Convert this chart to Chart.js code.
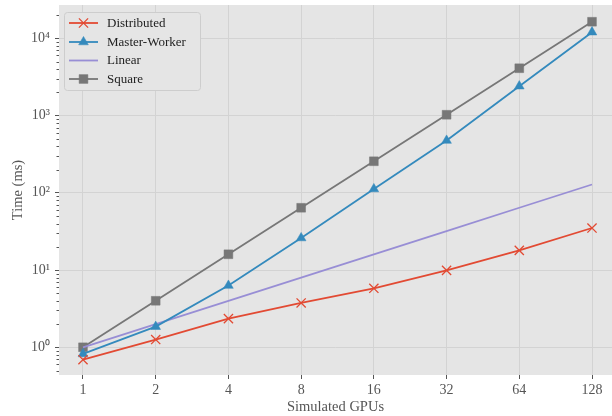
<!DOCTYPE html>
<html>
<head>
<meta charset="utf-8">
<script src="https://cdn.jsdelivr.net/npm/chart.js@4.4.1/dist/chart.umd.min.js"></script>
<style>
  html, body { margin: 0; padding: 0; background: #ffffff; }
  #wrap { width: 612px; height: 416px; }
</style>
</head>
<body>
<div id="wrap"><canvas id="c" width="612" height="416"></canvas></div>
<script>
// ---- data ----
const categories   = ['1', '2', '4', '8', '16', '32', '64', '128'];
const distributed  = [0.69, 1.26, 2.35, 3.75, 5.8, 9.9, 18, 35];
const masterWorker = [0.82, 1.85, 6.3, 26, 112, 475, 2400, 12000];
const linear       = [1, 2, 4, 8, 16, 32, 64, 128];
const square       = [1, 4, 16, 64, 256, 1024, 4096, 16384];
const yTickLabels  = ['10⁰', '10¹', '10²', '10³', '10⁴'];
const seriesNames  = ['Distributed', 'Master-Worker', 'Linear', 'Square'];

const FONT = '"Liberation Serif", "Times New Roman", serif';
const TEXT = '#555555';
const GRID = '#d3d3d3';
const BG   = '#e5e5e5';

const toPoints = arr => arr.map((v, i) => ({ x: i, y: v }));
const isPow10 = v => Math.abs(Math.log10(v) - Math.round(Math.log10(v))) < 1e-9;

const yMin = 0.4378, yMax = 26980;

const zeroPad = s => { s.paddingTop = 0; s.paddingBottom = 0; s.paddingLeft = 0; s.paddingRight = 0; };

const bgPlugin = {
  id: 'bgPlugin',
  beforeDraw(chart) {
    const { ctx, chartArea: a } = chart;
    ctx.save();
    ctx.fillStyle = BG;
    ctx.fillRect(a.left, a.top, a.right - a.left, a.bottom - a.top);
    ctx.restore();
  },
  afterDraw(chart) {
    const { ctx, chartArea: a } = chart;
    const ys = chart.scales.y;
    // minor tick marks on y axis
    ctx.save();
    ctx.strokeStyle = TEXT;
    ctx.lineWidth = 1;
    ys.ticks.forEach(t => {
      if (isPow10(t.value)) return;
      const py = Math.round(ys.getPixelForValue(t.value)) + 0.5;
      ctx.beginPath();
      ctx.moveTo(a.left - 2.5, py);
      ctx.lineTo(a.left, py);
      ctx.stroke();
    });
    ctx.restore();

    // legend inside the plot, upper left
    const bx = 64, by = 12, bw = 136, bh = 78;
    ctx.save();
    ctx.beginPath();
    if (ctx.roundRect) ctx.roundRect(bx + 0.5, by + 0.5, bw, bh, 3); else ctx.rect(bx + 0.5, by + 0.5, bw, bh);
    ctx.fillStyle = BG;
    ctx.fill();
    ctx.strokeStyle = '#cdcdcd';
    ctx.lineWidth = 1;
    ctx.stroke();
    const rowY = [23, 42, 60.5, 79];
    chart.data.datasets.forEach((ds, i) => {
      const y = rowY[i];
      ctx.strokeStyle = ds.borderColor;
      ctx.lineWidth = ds.borderWidth;
      ctx.beginPath();
      ctx.moveTo(69, y);
      ctx.lineTo(98, y);
      ctx.stroke();
      if (ds.pointRadius > 0) {
        ctx.fillStyle = ds.pointBackgroundColor;
        ctx.strokeStyle = ds.pointBorderColor;
        ctx.lineWidth = ds.pointBorderWidth;
        Chart.helpers.drawPoint(ctx, {
          pointStyle: ds.pointStyle, rotation: 0,
          radius: ds.pointRadius, borderWidth: ds.pointBorderWidth
        }, 83.5, y);
      }
      ctx.fillStyle = '#222222';
      ctx.font = '13px ' + FONT;
      ctx.textBaseline = 'middle';
      ctx.textAlign = 'left';
      ctx.fillText(seriesNames[i], 107, y + 0.5);
    });
    ctx.restore();
  }
};

new Chart(document.getElementById('c'), {
  type: 'line',
  data: {
    datasets: [
      { label: seriesNames[0], data: toPoints(distributed), borderColor: '#E24A33',
        borderWidth: 1.8, pointStyle: 'crossRot', pointRadius: 6.5,
        pointBackgroundColor: '#E24A33', pointBorderColor: '#E24A33', pointBorderWidth: 1.3 },
      { label: seriesNames[1], data: toPoints(masterWorker), borderColor: '#348ABD',
        borderWidth: 1.8, pointStyle: 'triangle', pointRadius: 5.6,
        pointBackgroundColor: '#348ABD', pointBorderColor: '#348ABD', pointBorderWidth: 0.5 },
      { label: seriesNames[2], data: toPoints(linear), borderColor: '#988ED5',
        borderWidth: 1.8, pointRadius: 0, pointBackgroundColor: '#988ED5',
        pointBorderColor: '#988ED5', pointBorderWidth: 0 },
      { label: seriesNames[3], data: toPoints(square), borderColor: '#777777',
        borderWidth: 1.8, pointStyle: 'rect', pointRadius: 6.2,
        pointBackgroundColor: '#777777', pointBorderColor: '#777777', pointBorderWidth: 0.5 }
    ]
  },
  options: {
    responsive: false,
    animation: false,
    devicePixelRatio: 1,
    layout: { autoPadding: false, padding: { top: 5, right: 0, left: 0, bottom: 0 } },
    plugins: { legend: { display: false }, tooltip: { enabled: false } },
    elements: { line: { tension: 0 } },
    scales: {
      x: {
        type: 'linear',
        min: -0.33, max: 7.275,
        afterBuildTicks: s => { s.ticks = categories.map((c, i) => ({ value: i })); },
        afterFit: s => { s.height = 41; zeroPad(s); },
        ticks: {
          autoSkip: false,
          callback: v => categories[v],
          color: TEXT,
          font: { family: FONT, size: 14 },
          padding: 3,
          maxRotation: 0
        },
        grid: { color: GRID, lineWidth: 1, tickColor: TEXT, tickLength: 4 },
        border: { display: false },
        title: { display: true, text: 'Simulated GPUs', color: TEXT,
                 font: { family: FONT, size: 14.5 }, padding: { top: 0, bottom: 0 } }
      },
      y: {
        type: 'logarithmic',
        min: yMin, max: yMax,
        afterBuildTicks: s => {
          const t = [];
          for (let k = -1; k <= 4; k++) {
            for (let m = 1; m <= 9; m++) {
              const v = m * Math.pow(10, k);
              if (v >= yMin && v <= yMax) t.push({ value: v });
            }
          }
          s.ticks = t;
        },
        afterFit: s => { s.width = 59; zeroPad(s); },
        ticks: {
          autoSkip: false,
          callback: v => isPow10(v) ? yTickLabels[Math.round(Math.log10(v))] : '',
          color: TEXT,
          font: { family: FONT, size: 14 },
          padding: 5
        },
        grid: {
          color: c => (c.tick && isPow10(c.tick.value)) ? GRID : 'rgba(0,0,0,0)',
          tickColor: c => (c.tick && isPow10(c.tick.value)) ? TEXT : 'rgba(0,0,0,0)',
          lineWidth: 1, tickLength: 4
        },
        border: { display: false },
        title: { display: true, text: 'Time (ms)', color: TEXT,
                 font: { family: FONT, size: 14.5 }, padding: { top: 9, bottom: 0 } }
      }
    }
  },
  plugins: [bgPlugin]
});
</script>
</body>
</html>
